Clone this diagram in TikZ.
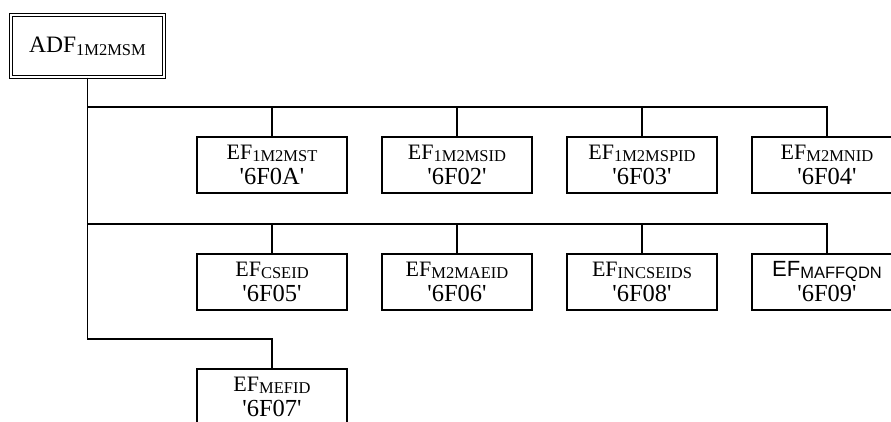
\documentclass[tikz,border=0pt]{standalone}
\usepackage{fontspec}
\setmainfont{Liberation Serif}
\newfontfamily\arialfont{Liberation Sans}
\newcommand{\efsub}[1]{\raisebox{-1.5bp}{\fontsize{16.5bp}{16.5bp}\selectfont #1}}
\newcommand{\fid}[1]{{\fontsize{24.5bp}{23bp}\selectfont\textquotesingle#1\textquotesingle}}
\tikzset{
  efbox/.style={draw, line width=1.5bp, minimum width=150bp, minimum height=56bp,
    inner sep=0pt, align=center, font=\fontsize{22bp}{23bp}\selectfont},
  adfbox/.style={draw, double, double distance=2bp, line width=1.2bp,
    minimum width=153bp, minimum height=62bp, inner sep=0pt,
    font=\fontsize{23.5bp}{23bp}\selectfont},
  link/.style={line width=1.5bp},
}
\begin{document}
\begin{tikzpicture}[x=1bp,y=-1bp]
\useasboundingbox (0,0) rectangle (891,421);
\clip (0,0) rectangle (891,421);
% master file
\node[adfbox] (adf) at (87.5,46) {ADF\raisebox{-1.5bp}{\efsub{1M2MSM}}};
% first row
\node[efbox] (mst)  at (272,165) {EF\efsub{1M2MST}\\[2bp]\fid{6F0A}};
\node[efbox] (msid) at (457,165) {EF\efsub{1M2MSID}\\[2bp]\fid{6F02}};
\node[efbox] (mspid) at (642,165) {EF\efsub{1M2MSPID}\\[2bp]\fid{6F03}};
\node[efbox] (mnid) at (827,165) {EF\efsub{M2MNID}\\[2bp]\fid{6F04}};
% second row
\node[efbox] (cseid) at (272,282) {EF\efsub{CSEID}\\[2bp]\fid{6F05}};
\node[efbox] (maeid) at (457,282) {EF\efsub{M2MAEID}\\[2bp]\fid{6F06}};
\node[efbox] (incseids) at (642,282) {EF\efsub{INCSEIDS}\\[2bp]\fid{6F08}};
\node[efbox] (maffqdn) at (827,282) {{\arialfont EF\efsub{MAFFQDN}}\\[2bp]\fid{6F09}};
% third row
\node[efbox] (mefid) at (272,397) {EF\efsub{MEFID}\\[2bp]\fid{6F07}};
% buses
\coordinate (bus1) at (87.5,107);
\coordinate (bus2) at (87.5,224);
\coordinate (bus3) at (87.5,339);
\draw[link] (adf.south) -- (bus3) -| (mefid.north);
\draw[link] (bus1) -| (mnid.north);
\draw[link] (bus2) -| (maffqdn.north);
\foreach \n in {mst,msid,mspid}
  \draw[link] (bus1 -| \n.north) -- (\n.north);
\foreach \n in {cseid,maeid,incseids}
  \draw[link] (bus2 -| \n.north) -- (\n.north);
\end{tikzpicture}
\end{document}
